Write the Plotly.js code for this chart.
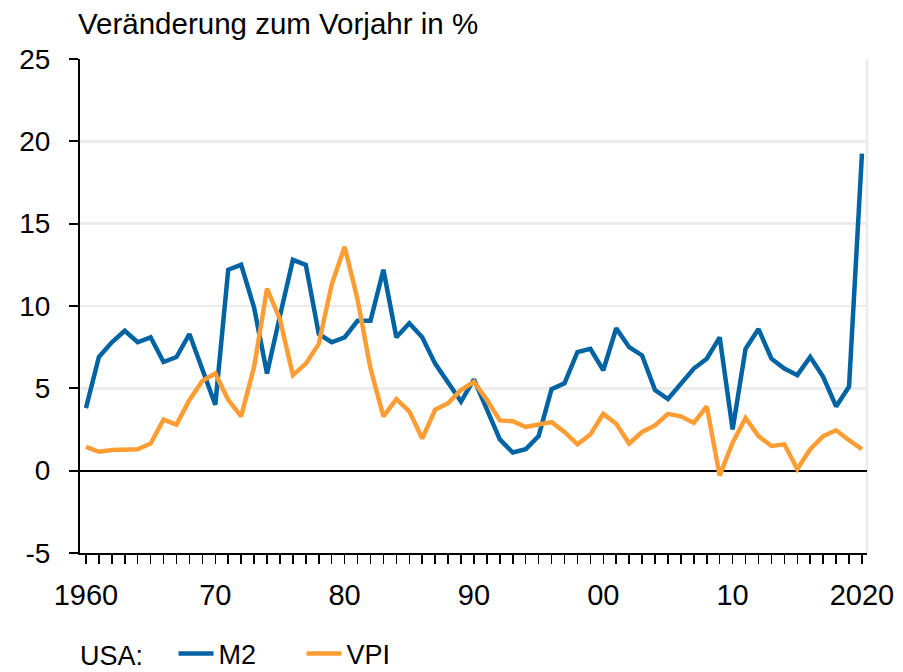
<!DOCTYPE html>
<html>
<head>
<meta charset="utf-8">
<script src="https://cdn.plot.ly/plotly-3.0.1.min.js"></script>
<style>html,body{margin:0;padding:0;background:#fff;}#chart{width:903px;height:672px;}</style>
</head>
<body>
<div id="chart"></div>
<script>
const years = [];
for (let y = 1960; y <= 2020; y++) years.push(y);

const m2 = [3.8, 6.9, 7.8, 8.5, 7.8, 8.1, 6.6, 6.9, 8.3, 6.1,
            4.0, 12.2, 12.5, 9.9, 5.9, 9.4, 12.8, 12.5, 8.3, 7.8,
            8.1, 9.1, 9.1, 12.2, 8.1, 8.95, 8.1, 6.5, 5.35, 4.2,
            5.55, 3.8, 1.9, 1.1, 1.3, 2.1, 4.95, 5.3, 7.2, 7.4,
            6.1, 8.65, 7.5, 7.0, 4.9, 4.35, 5.3, 6.2, 6.8, 8.1,
            2.5, 7.4, 8.6, 6.8, 6.2, 5.8, 6.9, 5.7, 3.9, 5.1,
            19.25];

const vpi = [1.45, 1.15, 1.25, 1.3, 1.3, 1.65, 3.1, 2.8, 4.3, 5.45,
             5.9, 4.3, 3.3, 6.3, 11.05, 9.2, 5.8, 6.5, 7.7, 11.3,
             13.6, 10.4, 6.2, 3.3, 4.35, 3.6, 1.95, 3.7, 4.1, 4.9,
             5.4, 4.3, 3.05, 3.0, 2.65, 2.8, 2.95, 2.35, 1.6, 2.2,
             3.45, 2.85, 1.65, 2.35, 2.75, 3.45, 3.3, 2.9, 3.9, -0.3,
             1.7, 3.2, 2.1, 1.5, 1.6, 0.1, 1.3, 2.1, 2.45, 1.85,
             1.3];

const xTickVals = [1960, 1970, 1980, 1990, 2000, 2010, 2020];
const xTickText = ['1960', '70', '80', '90', '00', '10', '2020'];
const yTickVals = [-5, 0, 5, 10, 15, 20, 25];
const yTickText = ['-5', '0', '5', '10', '15', '20', '25'];
const seriesNames = ['M2', 'VPI'];
const titleText = 'Veränderung zum Vorjahr in %';
const legendTitle = 'USA:\u00a0\u00a0\u00a0';

const FONT = 'Liberation Sans, Arial, sans-serif';

const traces = [
  {x: years, y: m2, name: seriesNames[0], type: 'scatter', mode: 'lines',
   line: {color: '#0063a3', width: 4.5}},
  {x: years, y: vpi, name: seriesNames[1], type: 'scatter', mode: 'lines',
   line: {color: '#ff9d35', width: 4.5}}
];

const layout = {
  width: 903, height: 672,
  paper_bgcolor: '#ffffff', plot_bgcolor: '#ffffff',
  margin: {l: 80, r: 36, t: 59, b: 119},
  font: {family: FONT, size: 28, color: '#000'},
  title: {text: titleText, font: {family: FONT, size: 29.5, color: '#000'},
          xref: 'container', yref: 'container', x: 78/903, xanchor: 'left',
          y: 1 - 24/672, yanchor: 'middle'},
  showlegend: true,
  legend: {orientation: 'h', xref: 'container', yref: 'container',
           x: 78/903, xanchor: 'left', y: 18/672, yanchor: 'middle',
           title: {text: legendTitle, side: 'left', font: {family: FONT, size: 27}},
           font: {family: FONT, size: 27}, itemwidth: 35, entrywidth: 78, tracegroupgap: 0,
           bgcolor: 'rgba(0,0,0,0)'},
  xaxis: {range: [1959.54, 2020.39], tickmode: 'array', tickvals: xTickVals, ticktext: xTickText,
          showgrid: false, zeroline: false, showline: true, linecolor: '#000', linewidth: 2,
          ticks: 'outside', ticklen: 9, tickwidth: 1.5, tickcolor: '#000',
          ticklabelstandoff: 6,
          minor: {dtick: 1, tick0: 1960, ticks: 'outside', ticklen: 9, tickwidth: 1.5, tickcolor: '#000', showgrid: false},
          tickfont: {family: FONT, size: 29}, fixedrange: true},
  yaxis: {range: [-5, 25], tickmode: 'array', tickvals: yTickVals, ticktext: yTickText,
          showgrid: true, gridcolor: '#ececec', gridwidth: 2.5,
          zeroline: true, zerolinecolor: '#000', zerolinewidth: 2,
          showline: true, linecolor: '#000', linewidth: 2,
          ticks: 'outside', ticklen: 9, tickwidth: 2, tickcolor: '#000',
          ticklabelstandoff: 13,
          tickfont: {family: FONT, size: 28}, fixedrange: true},
  shapes: [{type: 'line', xref: 'paper', yref: 'paper', x0: 1, x1: 1, y0: 0, y1: 1,
            line: {color: '#ececec', width: 2.5}, layer: 'below'}]
};

Plotly.newPlot('chart', traces, layout, {displayModeBar: false, staticPlot: true});
</script>
</body>
</html>
